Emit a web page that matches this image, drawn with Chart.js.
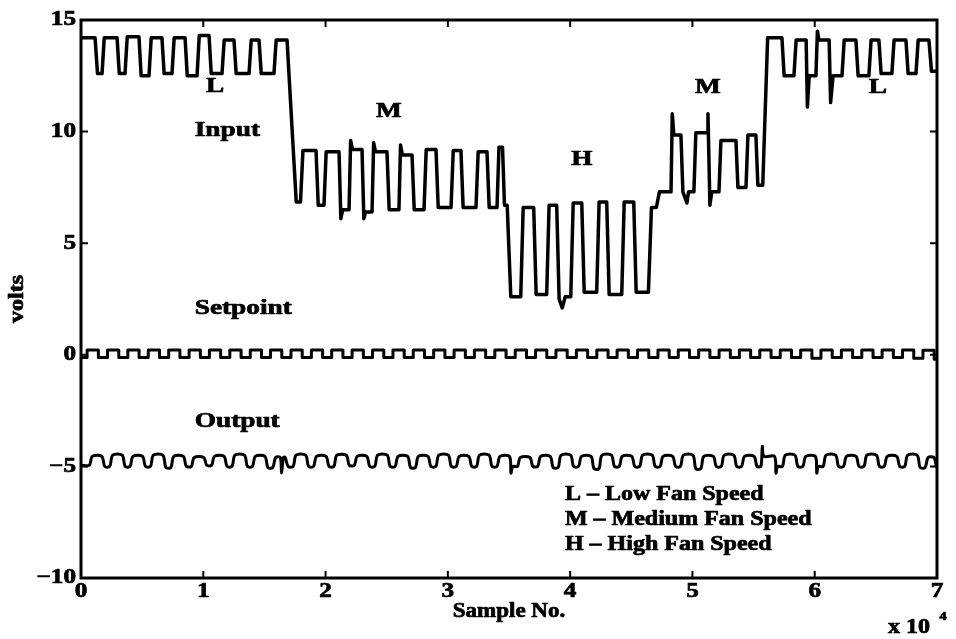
<!DOCTYPE html>
<html>
<head>
<meta charset="utf-8">
<script src="https://cdn.jsdelivr.net/npm/chart.js@4.4.0/dist/chart.umd.min.js"></script>
<style>
    html, body { margin: 0; padding: 0; background: #fff; }
</style>
</head>
<body>
<canvas id="chart" width="956" height="639"></canvas>
<script>
// Marcas de los ejes (muestras en unidades de 10^4, voltios)
const X_TICKS = [0, 1, 2, 3, 4, 5, 6, 7];
const Y_TICKS = [-10, -5, 0, 5, 10, 15];

// Señal de entrada: vértices (muestra x 10^4, voltios)
const INPUT_T = [0, 0.115, 0.135, 0.172, 0.190, 0.295, 0.313, 0.360, 0.378, 0.474, 0.492, 0.556, 0.574,
    0.662, 0.680, 0.744, 0.762, 0.851, 0.869, 0.949, 0.967, 1.047, 1.065, 1.153, 1.171, 1.251, 1.269,
    1.374, 1.392, 1.456, 1.474, 1.578, 1.596, 1.685, 1.760,
    1.795, 1.815, 1.922, 1.940, 1.987, 2.005, 2.110, 2.125, 2.140, 2.192, 2.205, 2.220, 2.298, 2.313, 2.328,
    2.380, 2.393, 2.408, 2.502, 2.520, 2.600, 2.613, 2.628, 2.707, 2.725, 2.805, 2.823, 2.903, 2.921,
    3.026, 3.044, 3.107, 3.125, 3.230, 3.248, 3.320, 3.338, 3.402, 3.418, 3.447, 3.463, 3.485, 3.515,
    3.596, 3.616, 3.702, 3.722, 3.808, 3.828, 3.890, 3.910, 3.935, 3.960, 4.005, 4.025, 4.095, 4.115,
    4.217, 4.237, 4.299, 4.319, 4.422, 4.442, 4.520, 4.540, 4.640, 4.665, 4.705, 4.730,
    4.825, 4.835, 4.848, 4.906, 4.922, 4.955, 4.968, 5.012, 5.028, 5.120, 5.127, 5.143, 5.158,
    5.217, 5.233, 5.356, 5.372, 5.438, 5.454, 5.519, 5.535, 5.575, 5.615,
    5.732, 5.750, 5.830, 5.848, 5.930, 5.940, 5.955, 6.010, 6.022, 6.035, 6.118, 6.130, 6.150,
    6.223, 6.241, 6.337, 6.355, 6.443, 6.461, 6.525, 6.543, 6.631, 6.649, 6.746, 6.764, 6.828, 6.846,
    6.934, 6.955, 7.000];
const INPUT_V = [14.2, 14.2, 12.6, 12.6, 14.2, 14.2, 12.6, 12.6, 14.25, 14.25, 12.5, 12.5, 14.2,
    14.2, 12.6, 12.6, 14.2, 14.2, 12.5, 12.5, 14.3, 14.3, 12.6, 12.6, 14.1, 14.1, 12.6,
    12.6, 14.1, 14.1, 12.6, 12.6, 14.1, 14.1, 6.85,
    6.85, 9.15, 9.15, 6.7, 6.7, 9.1, 9.1, 6.1, 6.5, 6.5, 9.6, 9.2, 9.2, 6.1, 6.4,
    6.4, 9.5, 9.1, 9.1, 6.5, 6.5, 9.4, 8.95, 8.95, 6.5, 6.5, 9.2, 9.2, 6.6,
    6.6, 9.15, 9.15, 6.6, 6.6, 9.1, 9.1, 6.6, 6.6, 9.3, 9.3, 6.7, 6.7, 2.6,
    2.6, 6.6, 6.6, 2.7, 2.7, 6.7, 6.7, 2.5, 2.1, 2.6, 2.6, 6.8, 6.8, 2.8,
    2.8, 6.85, 6.85, 2.7, 2.7, 6.85, 6.85, 2.8, 2.8, 6.6, 6.6, 7.3,
    7.3, 10.8, 9.85, 9.85, 7.3, 6.8, 7.3, 7.3, 9.95, 9.95, 10.8, 6.7, 7.3,
    7.3, 9.6, 9.6, 7.5, 7.5, 9.85, 9.85, 7.6, 7.6, 14.2,
    14.2, 12.5, 12.5, 14.1, 14.1, 11.1, 12.5, 12.5, 14.5, 14.1, 14.1, 11.3, 12.5,
    12.5, 14.1, 14.1, 12.5, 12.5, 14.1, 14.1, 12.6, 12.6, 14.1, 14.1, 12.6, 12.6, 14.1,
    14.1, 12.7, 12.7];

// Consigna (setpoint): instante del cambio y nivel desde ese instante
const SETPOINT_T = [0, 0.050, 0.142, 0.217, 0.309, 0.383, 0.475, 0.550, 0.642, 0.717, 0.809, 0.884, 0.976,
    1.050, 1.142, 1.217, 1.309, 1.384, 1.476, 1.550, 1.642, 1.717, 1.809, 1.884, 1.976, 2.050, 2.142, 2.217,
    2.309, 2.384, 2.476, 2.551, 2.643, 2.717, 2.809, 2.884, 2.976, 3.051, 3.143, 3.217, 3.309, 3.384, 3.476,
    3.551, 3.643, 3.717, 3.809, 3.884, 3.976, 4.051, 4.143, 4.218, 4.310, 4.384, 4.476, 4.551, 4.643, 4.718,
    4.810, 4.884, 4.976, 5.051, 5.143, 5.218, 5.310, 5.384, 5.476, 5.551, 5.643, 5.718, 5.810, 5.885, 5.977,
    6.051, 6.143, 6.218, 6.310, 6.385, 6.477, 6.551, 6.643, 6.718, 6.810, 6.885, 6.977, 7.000];
const SETPOINT_V = [-0.12, 0.22, -0.12, 0.22, -0.12, 0.22, -0.12, 0.22, -0.12, 0.22, -0.12, 0.22, -0.12,
    0.22, -0.12, 0.22, -0.12, 0.22, -0.12, 0.22, -0.12, 0.22, -0.12, 0.22, -0.12, 0.22, -0.12, 0.22,
    -0.12, 0.22, -0.12, 0.22, -0.12, 0.22, -0.12, 0.22, -0.12, 0.22, -0.12, 0.22, -0.12, 0.22, -0.12,
    0.22, -0.12, 0.22, -0.12, 0.22, -0.12, 0.22, -0.12, 0.22, -0.12, 0.22, -0.12, 0.22, -0.12, 0.22,
    -0.12, 0.22, -0.12, 0.22, -0.12, 0.22, -0.12, 0.22, -0.12, 0.22, -0.12, 0.22, -0.12, 0.22, -0.15,
    0.22, -0.12, 0.22, -0.12, 0.22, -0.12, 0.22, -0.12, 0.22, -0.15, 0.2, -0.2, -0.2];

// Salida medida: vértices (muestra x 10^4, voltios)
const OUTPUT_T = [0,
    0.068, 0.092, 0.170, 0.194, 0.235, 0.259, 0.337, 0.361, 0.401, 0.425, 0.503, 0.527,
    0.568, 0.592, 0.670, 0.694, 0.735, 0.759, 0.837, 0.861, 0.902, 0.926, 1.004, 1.028,
    1.068, 1.092, 1.170, 1.194, 1.235, 1.259, 1.337, 1.361, 1.402, 1.426, 1.504, 1.528,
    1.568, 1.592, 1.630, 1.640, 1.655, 1.670, 1.694,
    1.735, 1.759, 1.837, 1.861, 1.902, 1.926, 2.004, 2.028, 2.068, 2.092, 2.170, 2.194,
    2.235, 2.259, 2.337, 2.361, 2.402, 2.426, 2.504, 2.528, 2.569, 2.593, 2.671, 2.695,
    2.735, 2.759, 2.837, 2.861, 2.902, 2.926, 3.004, 3.028, 3.069, 3.093, 3.171, 3.195,
    3.235, 3.259, 3.337, 3.361, 3.402, 3.426, 3.504, 3.516, 3.530,
    3.569, 3.593, 3.671, 3.695, 3.735, 3.759, 3.837, 3.861, 3.902, 3.926, 4.004, 4.028,
    4.069, 4.093, 4.171, 4.195, 4.236, 4.260, 4.338, 4.362, 4.402, 4.426, 4.504, 4.528,
    4.569, 4.593, 4.671, 4.695, 4.736, 4.760, 4.838, 4.862, 4.902, 4.926, 5.004, 5.028,
    5.069, 5.093, 5.171, 5.195, 5.236, 5.260, 5.338, 5.362, 5.402, 5.426, 5.504, 5.528,
    5.560, 5.572, 5.585, 5.671, 5.683, 5.697,
    5.736, 5.760, 5.838, 5.862, 5.903, 5.927, 6.005, 6.017, 6.030,
    6.069, 6.093, 6.171, 6.195, 6.236, 6.260, 6.338, 6.362, 6.403, 6.427, 6.505, 6.529,
    6.569, 6.593, 6.671, 6.695, 6.736, 6.760, 6.838, 6.862, 6.903, 6.927, 6.975, 6.995,
    7.000];
const OUTPUT_V = [-4.95,
    -4.95, -4.55, -4.55, -5.0, -5.0, -4.5, -4.5, -5.0, -5.0, -4.55, -4.55, -5.0,
    -5.0, -4.5, -4.5, -5.05, -5.05, -4.55, -4.55, -5.0, -5.0, -4.6, -4.6, -4.95,
    -4.95, -4.55, -4.55, -5.0, -5.0, -4.5, -4.5, -5.0, -5.0, -4.55, -4.55, -5.05,
    -5.05, -4.6, -4.6, -5.3, -4.6, -4.6, -5.0,
    -5.0, -4.5, -4.5, -5.0, -5.0, -4.55, -4.55, -5.0, -5.0, -4.5, -4.5, -4.95,
    -4.95, -4.55, -4.55, -5.0, -5.0, -4.5, -4.5, -5.0, -5.0, -4.55, -4.55, -5.05,
    -5.05, -4.55, -4.55, -5.0, -5.0, -4.5, -4.5, -5.0, -5.0, -4.55, -4.55, -5.0,
    -5.0, -4.5, -4.5, -5.0, -5.0, -4.55, -4.55, -5.3, -5.0,
    -5.0, -4.6, -4.6, -5.0, -5.0, -4.55, -4.55, -5.05, -5.05, -4.5, -4.5, -5.0,
    -5.0, -4.55, -4.55, -5.1, -5.1, -4.5, -4.5, -5.0, -5.0, -4.55, -4.55, -5.0,
    -5.0, -4.5, -4.5, -5.0, -5.0, -4.55, -4.55, -5.0, -5.0, -4.5, -4.5, -5.1,
    -5.1, -4.55, -4.55, -5.0, -5.0, -4.5, -4.5, -5.0, -5.0, -4.55, -4.55, -5.0,
    -5.0, -4.1, -4.55, -4.55, -5.3, -5.0,
    -5.0, -4.5, -4.5, -5.0, -5.0, -4.55, -4.55, -5.3, -5.0,
    -5.0, -4.5, -4.5, -5.0, -5.0, -4.55, -4.55, -5.0, -5.0, -4.5, -4.5, -5.0,
    -5.0, -4.55, -4.55, -5.0, -5.0, -4.5, -4.5, -5.05, -5.05, -4.6, -4.6, -5.0,
    -5.0];

// Rótulos dentro del gráfico, anclados en coordenadas de datos
const NOTES = [
    { text: 'L', x: 1.096, y: 12.0, align: 'center' },
    { text: 'Input', x: 0.93, y: 10.05, align: 'left' },
    { text: 'M', x: 2.518, y: 10.9, align: 'center' },
    { text: 'H', x: 4.096, y: 8.73, align: 'center' },
    { text: 'M', x: 5.127, y: 11.95, align: 'center' },
    { text: 'L', x: 6.517, y: 11.95, align: 'center' },
    { text: 'Setpoint', x: 0.93, y: 2.05, align: 'left' },
    { text: 'Output', x: 0.93, y: -2.97, align: 'left' },
    { text: 'L \u2013 Low Fan Speed', x: 3.957, y: -6.28, align: 'left' },
    { text: 'M \u2013 Medium Fan Speed', x: 3.957, y: -7.40, align: 'left' },
    { text: 'H \u2013 High Fan Speed', x: 3.957, y: -8.52, align: 'left' }
];

// Función para convertir dos listas en puntos {x, y}
const toPoints = (times, volts) => times.map((t, i) => ({ x: t, y: volts[i] }));

// Función para escribir texto en negrita con serif, algo ensanchado y remarcado
const drawText = (ctx, text, x, y, size, align = 'center', sx = 1.25) => {
    ctx.save();
    ctx.translate(x, y);
    ctx.scale(sx, 1);
    ctx.font = `bold ${size}px "Liberation Serif", "DejaVu Serif", serif`;
    ctx.fillStyle = '#000';
    ctx.strokeStyle = '#000';
    ctx.lineWidth = 0.7;
    ctx.lineJoin = 'round';
    ctx.textAlign = align;
    ctx.textBaseline = 'middle';
    ctx.fillText(text, 0, 0);
    ctx.strokeText(text, 0, 0);
    ctx.restore();
}

// Marco, marcas hacia dentro, etiquetas y rótulos
const framePlugin = {
    id: 'frame',
    afterDraw(chart) {
        const { ctx, chartArea: a, scales: { x, y } } = chart;
        ctx.save();
        ctx.strokeStyle = '#000';
        ctx.lineWidth = 3;
        ctx.strokeRect(a.left, a.top, a.right - a.left, a.bottom - a.top);

        ctx.lineWidth = 2;
        ctx.beginPath();
        X_TICKS.forEach(v => {
            const px = x.getPixelForValue(v);
            ctx.moveTo(px, a.bottom); ctx.lineTo(px, a.bottom - 7);
            ctx.moveTo(px, a.top); ctx.lineTo(px, a.top + 7);
        });
        Y_TICKS.forEach(v => {
            const py = y.getPixelForValue(v);
            ctx.moveTo(a.left, py); ctx.lineTo(a.left + 7, py);
            ctx.moveTo(a.right, py); ctx.lineTo(a.right - 7, py);
        });
        ctx.stroke();
        ctx.restore();

        X_TICKS.forEach(v => drawText(ctx, String(v), x.getPixelForValue(v), a.bottom + 14, 21, 'center', 1.2));
        Y_TICKS.forEach(v => {
            const label = v < 0 ? '\u2212' + Math.abs(v) : String(v);
            drawText(ctx, label, a.left - 5, y.getPixelForValue(v), 21, 'right', 1.2);
        });

        NOTES.forEach(n => {
            const long = n.text.length > 8;
            drawText(ctx, n.text, x.getPixelForValue(n.x), y.getPixelForValue(n.y), long ? 20 : 21, n.align, long ? 1.2 : 1.3);
        });

        // Títulos de los ejes
        drawText(ctx, 'Sample No.', (a.left + a.right) / 2, a.bottom + 34, 20, 'center', 1.15);
        drawText(ctx, 'x 10', a.right - 7, a.bottom + 50, 20, 'right', 1.2);
        drawText(ctx, '4', a.right + 6, a.bottom + 39, 13, 'center', 1.1);

        ctx.save();
        ctx.translate(18, (a.top + a.bottom) / 2);
        ctx.rotate(-Math.PI / 2);
        drawText(ctx, 'volts', 0, 0, 20, 'center', 1.2);
        ctx.restore();
    }
};

const lineStyle = {
    borderColor: '#000',
    borderWidth: 3.5,
    borderJoinStyle: 'round',
    borderCapStyle: 'round',
    pointRadius: 0,
    fill: false
};

new Chart(document.getElementById('chart'), {
    type: 'line',
    data: {
        datasets: [
            { label: 'Input', data: toPoints(INPUT_T, INPUT_V), ...lineStyle, tension: 0 },
            { label: 'Setpoint', data: toPoints(SETPOINT_T, SETPOINT_V), ...lineStyle, borderWidth: 3, stepped: 'before' },
            { label: 'Output', data: toPoints(OUTPUT_T, OUTPUT_V), ...lineStyle, borderWidth: 3, tension: 0.3 }
        ]
    },
    options: {
        responsive: false,
        animation: false,
        layout: { padding: { left: 0, top: 20, right: 19, bottom: 0 } },
        plugins: {
            legend: { display: false },
            tooltip: { enabled: false }
        },
        scales: {
            x: {
                type: 'linear',
                min: 0,
                max: 7,
                ticks: { display: false, stepSize: 1 },
                grid: { display: false, drawTicks: false },
                border: { display: false },
                afterFit: (s) => { s.height = 61; }
            },
            y: {
                min: -10,
                max: 15,
                ticks: { display: false, stepSize: 5 },
                grid: { display: false, drawTicks: false },
                border: { display: false },
                afterFit: (s) => { s.width = 81; }
            }
        }
    },
    plugins: [framePlugin]
});
</script>
</body>
</html>
